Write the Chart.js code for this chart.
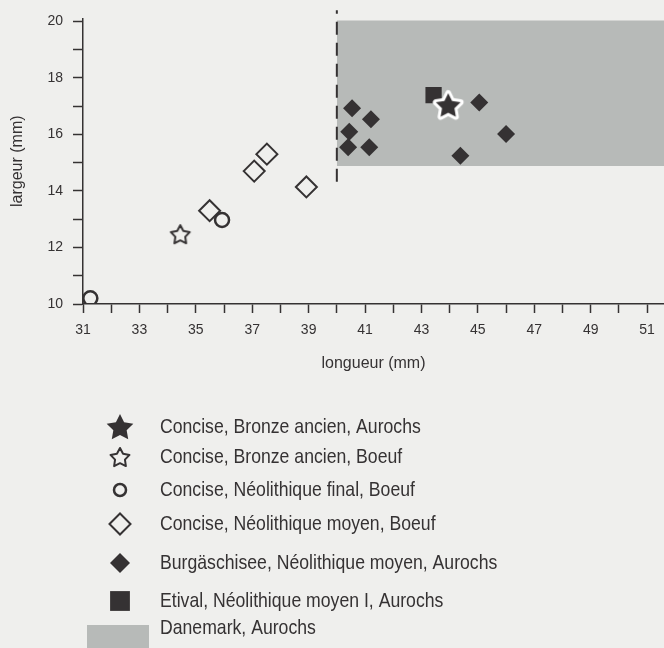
<!DOCTYPE html>
<html>
<head>
<meta charset="utf-8">
<script src="https://cdn.jsdelivr.net/npm/chart.js@4.4.0/dist/chart.umd.min.js"></script>
<style>
  html, body { margin: 0; padding: 0; background: #efefed; }
</style>
</head>
<body>
<canvas id="myChart" width="664" height="648"></canvas>
<script>
const FONT = "'Liberation Sans', Arial, sans-serif";
const INK = '#353233';
const DANE_GREY = '#b7bab8';

// (longueur, largeur) in mm
const concBronzeAurochs = [[43.95, 17.03]];
const concBronzeBoeuf = [[34.45, 12.47]];
const concNeoFinalBoeuf = [[31.26, 10.2], [35.93, 12.97]];
const concNeoMoyenBoeuf = [[35.49, 13.3], [37.07, 14.7], [37.52, 15.3], [38.92, 14.14]];
const burgNeoMoyenAurochs = [[40.54, 16.92], [41.21, 16.53], [40.44, 16.09], [40.4, 15.54],
  [41.15, 15.54], [44.38, 15.24], [45.05, 17.13], [46.0, 16.01]];
const etivalAurochs = [[43.43, 17.39]];
const danemarkX = [40, 52];
const danemarkY = [14.88, 20.03];
const limitX = 40;
const limitY = [14.32, 20.39];

const xTickLabels = [31, 33, 35, 37, 39, 41, 43, 45, 47, 49, 51];
const yTickLabels = [10, 12, 14, 16, 18, 20];

const legendLabels = [
  'Concise, Bronze ancien, Aurochs',
  'Concise, Bronze ancien, Boeuf',
  'Concise, Néolithique final, Boeuf',
  'Concise, Néolithique moyen, Boeuf',
  'Burgäschisee, Néolithique moyen, Aurochs',
  'Etival, Néolithique moyen I, Aurochs',
  'Danemark, Aurochs',
];
const legendRows = [427, 457, 490, 524, 563, 601, 628];

const pts = arr => arr.map(p => ({ x: p[0], y: p[1] }));

const makeStar = (outer, inner, fill, stroke, lw) => {
  const size = Math.ceil(2 * outer + 2 * lw + 4);
  const c = document.createElement('canvas');
  c.width = c.height = size;
  const g = c.getContext('2d');
  g.beginPath();
  for (let i = 0; i < 10; i++) {
    const r = i % 2 ? inner : outer;
    const a = -Math.PI / 2 + i * Math.PI / 5;
    g.lineTo(size / 2 + r * Math.cos(a), size / 2 + 1 + r * Math.sin(a));
  }
  g.closePath();
  g.lineJoin = 'round';
  if (stroke) { g.lineWidth = lw; g.strokeStyle = stroke; g.stroke(); }
  if (fill) { g.fillStyle = fill; g.fill(); }
  return c;
};

const starFilled = makeStar(13, 6.5, INK, '#ffffff', 6);
const starFilledKey = makeStar(14, 7, INK, null, 0);
const starOpen = makeStar(10, 5.2, null, INK, 2);

// legend symbol overrides (the key draws some symbols a bit larger)
const legendStyle = [
  { pointStyle: starFilledKey },
  {},
  { pointRadius: 6 },
  {},
  { pointRadius: 10 },
  { pointRadius: 14 },
];

const sideLegend = {
  id: 'sideLegend',
  afterDraw(chart) {
    const c = chart.ctx;
    legendLabels.forEach((label, i) => {
      const ds = chart.data.datasets[i];
      const y = legendRows[i];
      c.save();
      if (ds.fill) {
        c.fillStyle = ds.backgroundColor;
        c.fillRect(87, y - 3, 62, 30);
      } else {
        const st = Object.assign({}, ds, legendStyle[i]);
        c.fillStyle = st.pointBackgroundColor;
        c.strokeStyle = st.pointBorderColor;
        c.lineWidth = st.pointBorderWidth;
        Chart.helpers.drawPoint(c, {
          pointStyle: st.pointStyle, rotation: 0,
          radius: st.pointRadius, borderWidth: st.pointBorderWidth,
        }, 120, y);
      }
      c.fillStyle = INK;
      c.font = `21px ${FONT}`;
      c.textBaseline = 'middle';
      c.textAlign = 'left';
      c.translate(160, y);
      c.scale(0.84, 1);
      c.fillText(label, 0, 0);
      c.restore();
    });
  }
};

const marker = (style, radius, filled, extra) => Object.assign({
  pointStyle: style,
  pointRadius: radius,
  pointHoverRadius: radius,
  pointBackgroundColor: filled ? INK : 'transparent',
  pointBorderColor: INK,
  pointBorderWidth: filled ? 0 : 2,
}, extra);

const ctx = document.getElementById('myChart').getContext('2d');
const chart = new Chart(ctx, {
  type: 'scatter',
  data: {
    datasets: [
      marker(starFilled, 15, true, { label: legendLabels[0], data: pts(concBronzeAurochs) }),
      marker(starOpen, 10, false, { label: legendLabels[1], data: pts(concBronzeBoeuf) }),
      marker('circle', 7, false, { label: legendLabels[2], data: pts(concNeoFinalBoeuf), pointBorderWidth: 2.5 }),
      marker('rectRot', 10.5, false, { label: legendLabels[3], data: pts(concNeoMoyenBoeuf) }),
      marker('rectRot', 9, true, { label: legendLabels[4], data: pts(burgNeoMoyenAurochs) }),
      marker('rect', 11.5, true, { label: legendLabels[5], data: pts(etivalAurochs) }),
      {
        label: legendLabels[6],
        type: 'line',
        data: danemarkX.map(x => ({ x, y: danemarkY[1] })),
        fill: { value: danemarkY[0] },
        backgroundColor: DANE_GREY,
        borderColor: 'transparent',
        borderWidth: 0,
        pointRadius: 0,
        order: 2,
      },
      {
        label: 'limite',
        type: 'line',
        data: limitY.map(y => ({ x: limitX, y })),
        borderColor: INK,
        borderWidth: 2,
        borderDash: [13, 8],
        pointRadius: 0,
        fill: false,
        clip: false,
        order: 1,
      },
    ],
  },
  options: {
    responsive: false,
    animation: false,
    layout: { autoPadding: false, padding: { top: 18, right: 0, bottom: 274, left: 0 } },
    plugins: { legend: { display: false }, tooltip: { enabled: false } },
    scales: {
      x: {
        type: 'linear',
        min: 31,
        max: 51.6,
        afterFit: s => { s.height = 70; s.paddingLeft = 0; s.paddingRight = 0; },
        border: { color: INK, width: 1.5 },
        grid: { drawOnChartArea: false, tickLength: 9, tickColor: INK, tickWidth: 1.5 },
        ticks: {
          stepSize: 1, includeBounds: false, autoSkip: false, maxRotation: 0,
          padding: 9, color: INK, font: { family: FONT, size: 14 },
          callback: v => xTickLabels.includes(v) ? String(v) : '',
        },
        title: {
          display: true, text: 'longueur (mm)', color: INK,
          font: { family: FONT, size: 16 }, padding: { top: 0, bottom: 1 },
        },
      },
      y: {
        type: 'linear',
        min: 10,
        max: 20.1,
        afterFit: s => { s.width = 83; },
        border: { color: INK, width: 1.5 },
        grid: { drawOnChartArea: false, tickLength: 10, tickColor: INK, tickWidth: 1.5 },
        ticks: {
          stepSize: 1, includeBounds: false, autoSkip: false,
          padding: 10, color: INK, font: { family: FONT, size: 14 },
          callback: v => yTickLabels.includes(v) ? String(v) : '',
        },
        title: {
          display: true, text: 'largeur (mm)', color: INK,
          font: { family: FONT, size: 16 }, padding: { top: 8, bottom: 0 },
        },
      },
    },
  },
  plugins: [sideLegend],
});
</script>
</body>
</html>
